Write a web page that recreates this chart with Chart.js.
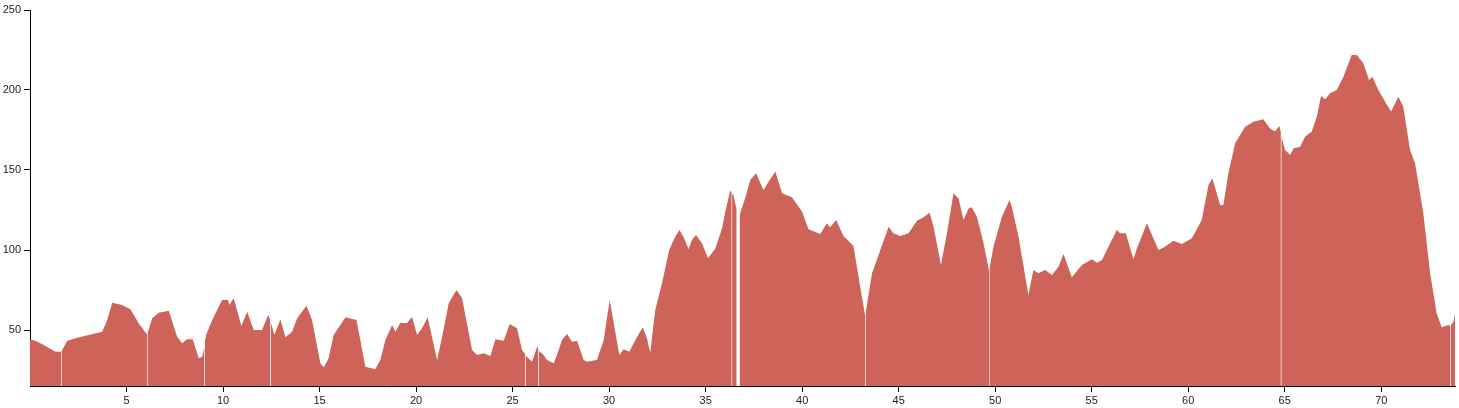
<!DOCTYPE html>
<html>
<head>
<meta charset="utf-8">
<script src="https://cdn.jsdelivr.net/npm/chart.js@4/dist/chart.umd.min.js"></script>
<style>
  html, body { margin: 0; padding: 0; background: #fff; }
  canvas { display: block; }
</style>
</head>
<body>
<canvas id="perfil" width="1459" height="408"></canvas>
<script>
// elevation profile along the route (km / m), null = break between track pieces

var distanceKm = [
  0.00, 0.28, 0.71, 1.32, 1.61, 1.62, 1.63, 1.93, 2.36, 2.87,
  3.74, 4.00, 4.26, 4.77, 5.20, 5.63, 6.06, 6.07, 6.08, 6.33,
  6.67, 7.19, 7.62, 7.88, 8.14, 8.43, 8.74, 8.92, 9.04, 9.05,
  9.06, 9.14, 9.44, 9.95, 10.26, 10.33, 10.55, 10.95, 11.25, 11.59,
  12.02, 12.34, 12.44, 12.45, 12.46, 12.66, 12.97, 13.23, 13.58, 13.84,
  14.32, 14.61, 15.04, 15.22, 15.47, 15.73, 16.34, 16.91, 17.08, 17.37,
  17.89, 18.15, 18.41, 18.76, 18.93, 19.19, 19.53, 19.79, 20.05, 20.31,
  20.60, 21.09, 21.35, 21.69, 22.09, 22.38, 22.90, 23.16, 23.50, 23.85,
  24.11, 24.54, 24.85, 25.23, 25.49, 25.65, 25.66, 25.67, 26.01, 26.27,
  26.34, 26.35, 26.36, 26.61, 26.78, 27.13, 27.30, 27.56, 27.82, 28.08,
  28.34, 28.68, 28.86, 29.37, 29.72, 30.03, 30.24, 30.53, 30.75, 31.05,
  31.36, 31.74, 31.96, 32.13, 32.39, 32.74, 33.11, 33.42, 33.65, 33.86,
  34.12, 34.29, 34.50, 34.81, 35.12, 35.50, 35.85, 36.02, 36.27, 36.35,
  36.36, 36.37, 36.44, 36.61, 36.68, 36.76, 37.07, 37.31, 37.61, 37.84,
  38.00, 38.26, 38.61, 38.96, 39.47, 39.99, 40.33, 40.94, 41.28, 41.45,
  41.76, 42.14, 42.66, 42.92, 43.26, 43.27, 43.28, 43.62, 44.05, 44.48,
  44.73, 45.08, 45.51, 45.95, 46.29, 46.60, 46.81, 47.19, 47.50, 47.84,
  48.10, 48.36, 48.62, 48.79, 49.05, 49.36, 49.68, 49.69, 49.70, 49.91,
  50.35, 50.74, 50.86, 51.21, 51.72, 51.98, 52.24, 52.59, 52.94, 53.28,
  53.54, 53.97, 54.49, 55.01, 55.27, 55.53, 56.30, 56.47, 56.77, 57.16,
  57.34, 57.86, 58.46, 58.80, 59.23, 59.67, 60.19, 60.70, 61.05, 61.25,
  61.65, 61.82, 62.08, 62.43, 62.95, 63.38, 63.89, 64.24, 64.50, 64.71,
  64.80, 64.81, 64.82, 65.02, 65.28, 65.45, 65.80, 66.05, 66.40, 66.66,
  66.88, 67.09, 67.35, 67.69, 68.04, 68.47, 68.73, 69.07, 69.37, 69.54,
  69.85, 70.20, 70.51, 70.89, 71.14, 71.49, 71.75, 72.18, 72.53, 72.87,
  73.13, 73.47, 73.59, 73.60, 73.61, 73.74, 73.82
];

var elevationM = [
  44, 43.3, 40.6, 36.4, 36.4, null, 36.6, 43.3, 44.8, 46.4,
  48.9, 56.3, 67.1, 65.6, 62.9, 54.2, 47.2, null, 47.8, 57.3,
  60.8, 62.1, 45.8, 41.7, 44.2, 44.2, 32.3, 33.3, 40, null,
  43, 47.5, 56.3, 68.8, 68.8, 65.6, 70, 52.5, 61.4, 50,
  50, 59.4, 56.5, null, 55.5, 46.9, 56.7, 45.4, 48.9, 57.3,
  65.2, 56.3, 29.2, 26.7, 32.3, 46.9, 57.9, 56.3, 45.8, 27.1,
  25.4, 31.3, 43.8, 53.1, 48.9, 54.6, 54.2, 58.3, 46.9, 51.1,
  57.9, 31.3, 45.8, 66.7, 75, 70, 37.5, 34.4, 35.4, 33.8,
  44.2, 43.3, 53.8, 51.1, 37.5, 35, null, 34, 30.2, 39.6,
  38, null, 37, 34.4, 31.3, 29.2, 34.4, 43.8, 47.5, 42.7,
  43.3, 31.3, 30.2, 31.3, 43.8, 68.8, 54.2, 34.4, 37.9, 36.4,
  43.8, 51.7, 44.8, 35.8, 62.5, 79.2, 100, 108.3, 112.5, 108,
  100.4, 106.3, 109.4, 104.2, 94.8, 101, 113.5, 124, 137, 136,
  null, 135, 134.4, 125, null, 121.9, 133.3, 143.8, 147.9, 141.7,
  137.5, 142.7, 149, 135.4, 132.9, 124, 112.9, 110, 116.7, 114.2,
  118.8, 108.8, 102.5, 83.3, 59, null, 60, 85.4, 100, 114.6,
  110.4, 108.8, 110.4, 118.3, 120.4, 123.3, 114.6, 90.6, 110.4, 135.4,
  132.3, 118.8, 126, 126.7, 120.8, 106.3, 87, null, 88, 102,
  120.8, 131.3, 127.1, 108.3, 71.9, 87.5, 85.4, 87.5, 84.4, 89.6,
  97.5, 83, 90.6, 94.2, 92.1, 93.8, 112.5, 110.4, 110.4, 94.2,
  101, 116.7, 100, 102, 105.8, 103.8, 107.3, 118.8, 140.6, 144.8,
  128.1, 128.1, 147.9, 166.7, 177.1, 180.2, 181.7, 176, 174, 177.5,
  174, null, 171, 162.5, 159.4, 163.5, 164.6, 170.8, 174, 183.3,
  196.3, 194.2, 198, 200, 208.3, 221.9, 221.9, 216.7, 206.3, 208.3,
  200, 192.7, 186.5, 195.8, 189.6, 162.5, 154.2, 122.9, 85.4, 60.4,
  51.7, 53.1, 52.5, null, 53, 55.2, 60.4
];

var xTicks = [5, 10, 15, 20, 25, 30, 35, 40, 45, 50, 55, 60, 65, 70];
var yTicks = [50, 100, 150, 200, 250];

var puntos = distanceKm.map(function (d, i) {
    return { x: d, y: elevationM[i] };
});

function fijarTicks (lista) {
    return function (scale) {
        scale.ticks = lista.map(function (v) { return { value: v }; });
    };
}

var ctx = document.getElementById('perfil').getContext('2d');
var myChart = new Chart(ctx, {
    type: 'line',
    data: {
        datasets: [{
            label: 'Elevation',
            data: puntos,
            backgroundColor: 'rgb(206, 99, 89)',
            borderColor: 'rgba(0, 0, 0, 0)',
            borderWidth: 0,
            pointRadius: 0,
            pointHoverRadius: 0,
            tension: 0,
            fill: 'start',
            spanGaps: false
        }]
    },
    options: {
        responsive: false,
        animation: false,
        devicePixelRatio: 1,
        events: [],
        layout: {
            padding: { top: 10, right: 4, left: 0, bottom: 0 }
        },
        plugins: {
            legend: { display: false },
            tooltip: { enabled: false }
        },
        scales: {
            x: {
                type: 'linear',
                min: 0,
                max: 73.82,
                afterBuildTicks: fijarTicks(xTicks),
                afterFit: function (scale) { scale.height = 22; },
                border: { display: true, color: '#000', width: 1 },
                grid: {
                    drawOnChartArea: false,
                    drawTicks: true,
                    tickLength: 6,
                    color: '#000'
                },
                ticks: {
                    padding: 2,
                    maxRotation: 0,
                    autoSkip: false,
                    color: '#222',
                    font: { family: 'Arial, "Liberation Sans", sans-serif', size: 11 }
                }
            },
            y: {
                min: 15,
                max: 250,
                afterBuildTicks: fijarTicks(yTicks),
                afterFit: function (scale) { scale.width = 30; },
                border: { display: true, color: '#000', width: 1 },
                grid: {
                    drawOnChartArea: false,
                    drawTicks: true,
                    tickLength: 6,
                    color: '#000'
                },
                ticks: {
                    padding: 3,
                    autoSkip: false,
                    color: '#222',
                    font: { family: 'Arial, "Liberation Sans", sans-serif', size: 11 }
                }
            }
        }
    }
});
</script>
</body>
</html>
